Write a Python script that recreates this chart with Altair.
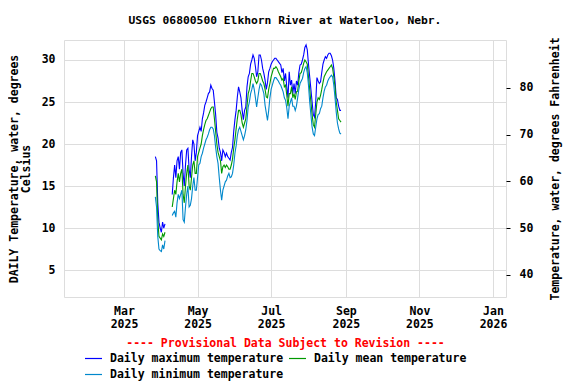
import altair as alt
import pandas as pd

start_date = "2025-03-27"

max_temp = [
    18.5, 18.0, 13.0, 10.7, 10.0, 9.5, 10.7, 10.0, 10.5,
    None, None, None, None, None,
    14.0, 16.0, 17.5, 16.0, 18.0, 18.5, 17.0, 19.0, 19.3, 16.5, 15.0, 17.5, 19.3, 19.5, 17.0, 16.0, 18.5, 20.5, 20.0, 18.0, 19.0, 21.0,
    21.5, 22.0, 21.5, 23.0, 23.7, 24.6, 25.0, 25.5, 26.0, 26.2, 27.0, 26.6, 26.4, 25.0, 23.5, 21.4, 20.7, 19.5, 19.0, 18.0,
    19.3, 19.0, 18.5, 18.9, 18.5, 18.3, 18.1, 19.0, 19.6, 21.5, 22.9, 24.0, 25.6, 26.8, 26.2, 25.5, 24.0, 22.9, 24.0, 24.4,
    26.8, 28.0, 28.4, 29.5, 30.0, 30.6, 30.2, 29.2, 28.0, 28.6, 30.6, 30.6, 30.0, 29.0, 28.4, 27.6, 26.5, 27.3, 28.6, 29.0,
    29.5, 29.8, 30.0, 30.2, 30.2, 30.0, 29.8, 29.6, 29.4, 28.5, 29.0, 27.5, 28.4, 26.8, 25.5, 28.6, 27.0, 27.6, 26.0, 27.2,
    26.0, 27.5, 27.0, 28.5, 29.4, 29.5, 30.0, 30.6, 31.5, 31.8, 31.2, 29.5, 28.0, 26.5, 25.0, 23.5, 23.2, 25.0, 27.9, 27.5,
    27.2, 27.4, 28.5, 29.5, 30.0, 30.4, 30.2, 30.6, 30.8, 30.8, 30.5, 30.0, 29.0, 27.5, 25.5, 25.3, 24.5, 24.0, 24.0,
]

mean_temp = [
    16.2, 15.5, 11.0, 9.0, 8.8, 8.6, 9.3, 9.0, 9.5,
    None, None, None, None, None,
    12.5, 13.5, 14.5, 14.0, 15.5, 16.5, 15.5, 16.5, 17.0, 14.0, 13.0, 15.0, 16.5, 17.5, 15.0, 14.5, 16.0, 17.5, 18.0, 16.5, 16.5, 18.5,
    19.0, 19.5, 20.0, 21.0, 21.7, 22.3, 22.8, 23.0, 23.4, 23.8, 24.2, 24.4, 24.4, 23.0, 21.5, 20.0, 19.0, 18.5, 18.0, 16.5,
    17.3, 17.5, 17.2, 17.5, 17.3, 17.0, 17.0, 17.5, 18.2, 19.5, 20.5, 21.8, 23.0, 24.0, 24.0, 23.5, 22.5, 22.0, 22.5, 23.0,
    24.5, 26.0, 26.5, 27.5, 28.4, 28.4, 28.0, 27.5, 27.2, 27.5, 28.4, 28.4, 28.0, 27.5, 27.2, 26.5, 25.6, 25.5, 26.5, 27.2,
    28.0, 28.5, 29.0, 29.0, 29.2, 29.0, 28.6, 28.3, 28.0, 27.6, 27.8, 26.8, 27.0, 25.8, 24.5, 26.0, 26.0, 26.8, 25.5, 26.0,
    25.3, 26.2, 26.3, 27.5, 28.4, 28.5, 29.0, 29.6, 30.0, 29.8, 29.5, 28.0, 26.5, 25.0, 23.5, 22.3, 22.0, 23.5, 25.0, 25.5,
    25.3, 25.8, 26.5, 27.3, 28.0, 28.3, 28.6, 28.8, 29.0, 29.2, 29.4, 29.0, 28.0, 26.8, 25.0, 24.0, 23.0, 22.8, 22.6,
]

min_temp = [
    13.7, 12.5, 9.0, 7.5, 7.3, 7.2, 8.0, 7.5, 8.5,
    None, None, None, None, None,
    11.5, 11.8, 12.0, 11.3, 13.0, 14.0, 13.5, 14.0, 14.5, 11.0, 10.7, 12.5, 14.0, 15.0, 12.5, 12.7, 13.5, 15.0, 16.0, 14.5, 14.5, 16.0,
    17.5, 17.7, 18.5, 18.9, 19.5, 20.0, 20.5, 20.8, 21.2, 21.7, 22.0, 22.0, 21.8, 21.0, 19.6, 18.5, 17.7, 16.0, 14.5, 13.3,
    14.5, 15.0, 15.5, 15.7, 16.2, 16.5, 16.0, 16.1, 16.5, 17.5, 18.9, 19.8, 21.0, 21.7, 22.0, 21.5, 21.0, 20.5, 21.0, 21.7,
    22.8, 24.4, 25.0, 26.0, 26.5, 27.2, 26.5, 25.5, 24.4, 25.5, 26.5, 27.2, 27.0, 26.5, 26.0, 24.6, 23.7, 22.8, 24.0, 25.5,
    26.5, 27.0, 27.5, 27.9, 27.9, 27.7, 27.5, 27.2, 27.0, 26.6, 26.2, 25.5, 25.2, 24.3, 23.0, 24.5, 25.0, 25.5, 24.5, 24.5,
    24.0, 24.5, 25.5, 26.5, 27.2, 27.5, 27.8, 28.5, 29.0, 29.2, 28.5, 27.0, 25.0, 23.5, 22.0, 21.2, 21.0, 22.0, 23.0, 23.5,
    23.6, 24.2, 24.5, 25.5, 26.3, 26.8, 27.0, 27.5, 27.8, 28.0, 28.2, 28.0, 27.0, 25.5, 23.8, 22.5, 21.8, 21.3, 21.2,
]

series_names = ["Daily maximum temperature", "Daily mean temperature", "Daily minimum temperature"]
series_colors = ["#0000ff", "#009900", "#0088cc"]
# legend fills column by column: max, min in the first column, mean in the second
legend_order = [0, 2, 1]
c_ticks = [5, 10, 15, 20, 25, 30]
f_ticks = [40, 50, 60, 70, 80]
tick_months = [(2025, 3), (2025, 5), (2025, 7), (2025, 9), (2025, 11), (2026, 1)]

FONT = "DejaVu Sans Mono"

dates = pd.date_range(start_date, periods=len(max_temp), freq="D")
rows = []
for name, vals in zip(series_names, [max_temp, mean_temp, min_temp]):
    seg = 0
    for dt, v in zip(dates, vals):
        if v is None:
            seg = 1
            continue
        rows.append({"date": dt.strftime("%Y-%m-%d"), "series": name, "value": v, "seg": seg})
df = pd.DataFrame(rows)

fdf = pd.DataFrame({"f": f_ticks})

x_enc = alt.X(
    "date:T",
    scale=alt.Scale(
        type="utc",
        domain=[
            alt.DateTime(year=2025, month=1, date=10, hours=6, utc=True),
            alt.DateTime(year=2026, month=1, date=11, hours=19, utc=True),
        ],
    ),
    axis=alt.Axis(
        values=[alt.DateTime(year=y, month=m, date=1, utc=True) for y, m in tick_months],
        labelExpr="[utcFormat(datum.value, '%b'), utcFormat(datum.value, '%Y')]",
        grid=True,
        ticks=False,
        domain=False,
        labelFont=FONT,
        labelFontSize=11.5,
        labelFontWeight="bold",
        labelColor="black",
        labelLineHeight=13,
        labelPadding=8,
        title="---- Provisional Data Subject to Revision ----",
        titleFont=FONT,
        titleFontSize=11.5,
        titleFontWeight="bold",
        titleColor="#ff0000",
        titlePadding=8,
    ),
)

lines = alt.Chart(df).mark_line(strokeWidth=1.1).encode(
    x=x_enc,
    y=alt.Y(
        "value:Q",
        scale=alt.Scale(domain=[1.79, 32.38], nice=False, zero=False),
        axis=alt.Axis(
            values=c_ticks,
            grid=True,
            ticks=False,
            domain=False,
            labelFont=FONT,
            labelFontSize=11.5,
            labelFontWeight="bold",
            labelColor="black",
            labelPadding=9,
            title=["DAILY Temperature, water, degrees", "Celsius"],
            titleFont=FONT,
            titleFontSize=11.5,
            titleFontWeight="bold",
            titleColor="black",
            titleLineHeight=12,
            titlePadding=10,
        ),
    ),
    color=alt.Color(
        "series:N",
        scale=alt.Scale(
            domain=[series_names[i] for i in legend_order],
            range=[series_colors[i] for i in legend_order],
        ),
        legend=alt.Legend(
            orient="none",
            legendX=20,
            legendY=309,
            columns=2,
            title=None,
            symbolType="stroke",
            symbolSize=289,
            symbolStrokeWidth=1.2,
            labelFont=FONT,
            labelFontSize=11.5,
            labelFontWeight="bold",
            labelColor="black",
            labelOffset=7,
            labelLimit=0,
            columnPadding=2,
            rowPadding=1,
            padding=0,
        ),
    ),
    detail="seg:N",
)

right_axis = alt.Chart(fdf).mark_point(opacity=0).encode(
    y=alt.Y(
        "f:Q",
        scale=alt.Scale(domain=[35.22, 90.28], nice=False, zero=False),
        axis=alt.Axis(
            orient="right",
            values=f_ticks,
            grid=False,
            ticks=True,
            tickSize=4,
            tickColor="black",
            domain=False,
            labelFont=FONT,
            labelFontSize=11.5,
            labelFontWeight="bold",
            labelColor="black",
            labelPadding=9,
            title="Temperature, water, degrees Fahrenheit",
            titleAngle=270,
            titleFont=FONT,
            titleFontSize=11.5,
            titleFontWeight="bold",
            titleColor="black",
            titlePadding=28,
        ),
    ),
)

chart = (
    alt.layer(lines, right_axis)
    .resolve_scale(y="independent")
    .properties(
        width=442,
        height=257,
        padding={"left": 56, "top": 32, "right": 62, "bottom": 87},
        autosize=alt.AutoSizeParams(type="none"),
        title=alt.TitleParams(
            text="USGS 06800500 Elkhorn River at Waterloo, Nebr.",
            font=FONT,
            fontSize=11.3,
            fontWeight="bold",
            color="black",
            anchor="middle",
            offset=11,
        ),
    )
    .configure_view(stroke="black", strokeWidth=1)
    .configure_axis(gridColor="#c8c8c8", gridWidth=1)
    .configure(background="white")
)

chart.save("out.html", embed_options={"renderer": "svg", "actions": False})
